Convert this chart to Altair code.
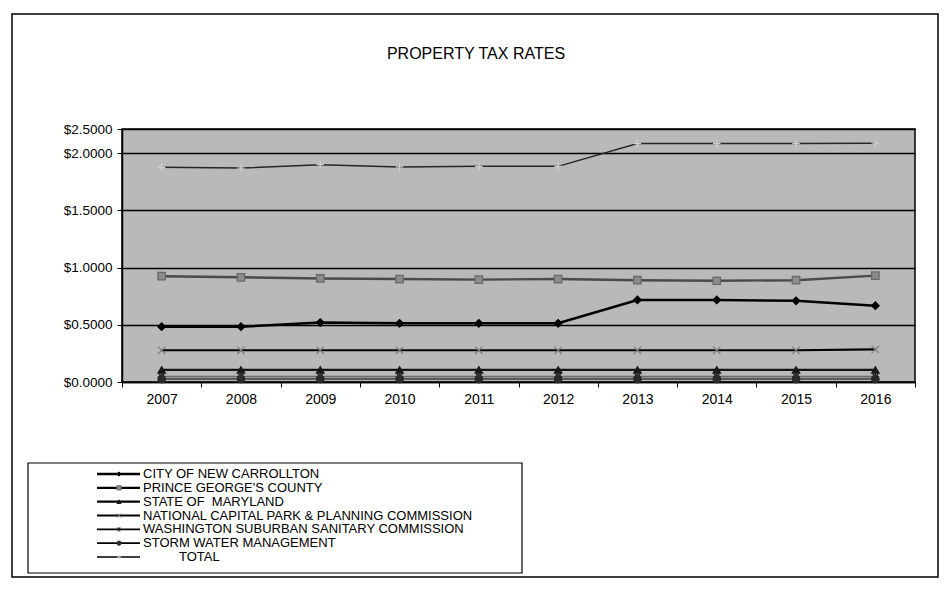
import altair as alt
import pandas as pd

years = ["2007", "2008", "2009", "2010", "2011", "2012", "2013", "2014", "2015", "2016"]

series_names = [
    "CITY OF NEW CARROLLTON",
    "PRINCE GEORGE'S COUNTY",
    "STATE OF\u00a0 MARYLAND",
    "NATIONAL CAPITAL PARK & PLANNING COMMISSION",
    "WASHINGTON SUBURBAN SANITARY COMMISSION",
    "STORM WATER MANAGEMENT",
    "TOTAL",
]
# label indent (px) used by the original legend for the last entry
legend_indent = [0, 0, 0, 0, 0, 0, 36]

city = [0.483, 0.483, 0.520, 0.513, 0.513, 0.513, 0.717, 0.717, 0.710, 0.667]
pg_county = [0.925, 0.915, 0.905, 0.900, 0.895, 0.900, 0.890, 0.885, 0.890, 0.930]
state_md = [0.105, 0.105, 0.105, 0.105, 0.105, 0.105, 0.105, 0.105, 0.105, 0.105]
ncppc = [0.277, 0.277, 0.277, 0.277, 0.277, 0.277, 0.277, 0.277, 0.277, 0.285]
wssc = [0.047, 0.047, 0.047, 0.047, 0.047, 0.047, 0.047, 0.047, 0.047, 0.047]
storm = [0.026, 0.026, 0.026, 0.026, 0.026, 0.026, 0.026, 0.026, 0.026, 0.026]
total = [1.877, 1.870, 1.900, 1.880, 1.885, 1.885, 2.085, 2.085, 2.085, 2.088]

y_ticks = [0.0, 0.5, 1.0, 1.5, 2.0, 2.5]

all_series = [city, pg_county, state_md, ncppc, wssc, storm, total]
rows = []
for name, vals in zip(series_names, all_series):
    for yr, v in zip(years, vals):
        rows.append({"year": yr, "series": name, "rate": v})
df = pd.DataFrame(rows)
legend_df = pd.DataFrame({"series": series_names, "indent": legend_indent})

# styles
line_colors = ["#000000", "#4a4a4a", "#141414", "#000000", "#6e6e6e", "#3a3a3a", "#262626"]
line_widths = [2.6, 1.5, 2.6, 2.0, 3.0, 3.0, 1.5]
asterisk = "M-1,0H1M0,-1V1M-0.7,-0.7L0.7,0.7M-0.7,0.7L0.7,-0.7"
xshape = "M-1,-1L1,1M-1,1L1,-1"
plus = "M-1,0H1M0,-1V1"
marker_shapes = ["diamond", "square", "triangle-up", xshape, asterisk, "circle", plus]
marker_fill = ["#000000", "#8c8c8c", "#1a1a1a", "transparent", "transparent", "#2a2a2a", "transparent"]
marker_stroke = ["#000000", "#6a6a6a", "#1a1a1a", "#808080", "#1a1a1a", "#2a2a2a", "#d0d0d0"]
legend_line_widths = [2.0, 1.2, 1.6, 1.6, 1.2, 2.2, 1.0]
legend_marker_stroke = ["#000000", "#555555", "#1a1a1a", "#333333", "#1a1a1a", "#1a1a1a", "#555555"]

W, H = 793, 253
ppu = 114.4
y_scale = alt.Scale(domain=[0, 2.1, 2.5], range=[H, H - 2.1 * ppu, 0])

x_enc = alt.X(
    "year:O",
    bandPosition=0.5,
    scale=alt.Scale(type="band", paddingInner=0, paddingOuter=0),
    axis=alt.Axis(
        title=None, tickBand="extent", labelAngle=0, tickSize=5, tickColor="black",
        domainColor="black", domainWidth=1.5, labelPadding=5, labelFontSize=14,
        labelFont="Liberation Sans", labelColor="black", grid=False,
    ),
)
y_enc = alt.Y(
    "rate:Q",
    scale=y_scale,
    axis=alt.Axis(
        title=None, values=y_ticks, labelExpr="'$' + format(datum.value, '.4f')",
        tickSize=5, tickColor="black", domainColor="black", domainWidth=1.5,
        labelPadding=5, labelFontSize=13.5, labelFont="Liberation Sans", labelColor="black",
        grid=True, gridColor="black", gridWidth=1.6, gridOpacity=1,
    ),
)

shape_scale = alt.Scale(domain=series_names, range=marker_shapes)

base = alt.Chart(df)

lines = base.mark_line().encode(
    x=x_enc,
    y=y_enc,
    color=alt.Color("series:N", scale=alt.Scale(domain=series_names, range=line_colors), legend=None),
    strokeWidth=alt.StrokeWidth("series:N", scale=alt.Scale(domain=series_names, range=line_widths), legend=None),
)

points = base.mark_point(size=55, strokeWidth=1.3, opacity=1).encode(
    x=x_enc,
    y=y_enc,
    shape=alt.Shape("series:N", scale=shape_scale, legend=None),
    fill=alt.Fill("series:N", scale=alt.Scale(domain=series_names, range=marker_fill), legend=None),
    stroke=alt.Stroke("series:N", scale=alt.Scale(domain=series_names, range=marker_stroke), legend=None),
)

# hand-built legend (rows placed by a point scale over the series)
leg_y = alt.Y("series:N", scale=alt.Scale(type="point", domain=series_names, range=[345, 428], padding=0), axis=None)
leg_base = alt.Chart(legend_df)
leg_lines = leg_base.mark_rule(color="black").encode(
    x=alt.value(-25), x2=alt.value(18), y=leg_y,
    strokeWidth=alt.StrokeWidth("series:N", scale=alt.Scale(domain=series_names, range=legend_line_widths), legend=None),
)
leg_marks = leg_base.mark_point(size=18, strokeWidth=1.0, opacity=1).encode(
    x=alt.value(-3), y=leg_y,
    shape=alt.Shape("series:N", scale=shape_scale, legend=None),
    fill=alt.Fill("series:N", scale=alt.Scale(domain=series_names, range=marker_fill), legend=None),
    stroke=alt.Stroke("series:N", scale=alt.Scale(domain=series_names, range=legend_marker_stroke), legend=None),
)
leg_text = leg_base.transform_calculate(
    lx="21 + datum.indent"
).mark_text(
    align="left", baseline="middle", font="Liberation Sans", fontSize=13, color="black"
).encode(
    x=alt.X("lx:Q", scale=None, axis=None), y=leg_y, text="series:N"
)
legend_layer = alt.layer(leg_lines, leg_marks, leg_text)

frame_df = pd.DataFrame({"k": [0]})
outer_frame = alt.Chart(frame_df).mark_rect(fill="transparent", stroke="black", strokeWidth=1.5).encode(
    x=alt.value(-110), x2=alt.value(816), y=alt.value(-115), y2=alt.value(448)
)
legend_box = alt.Chart(frame_df).mark_rect(fill="transparent", stroke="black", strokeWidth=1.2).encode(
    x=alt.value(-94), x2=alt.value(400), y=alt.value(334), y2=alt.value(444)
)
title_df = pd.DataFrame({"t": ["PROPERTY TAX RATES"]})
title_mark = alt.Chart(title_df).mark_text(
    align="center", baseline="alphabetic", font="Liberation Sans",
    fontSize=16, color="black"
).encode(x=alt.value(354), y=alt.value(-70), text="t:N")

data_layer = alt.layer(lines, points)

chart = alt.layer(outer_frame, legend_box, title_mark, data_layer, legend_layer).resolve_scale(
    y="independent", x="independent"
).properties(
    width=W,
    height=H,
    autosize="none",
    padding={"left": 114, "top": 121, "right": 26, "bottom": 198},
).configure_view(
    fill="#b9b9b9", stroke="black", strokeWidth=1.5
)

chart.save("out.html", embed_options={"renderer": "svg", "actions": False})
